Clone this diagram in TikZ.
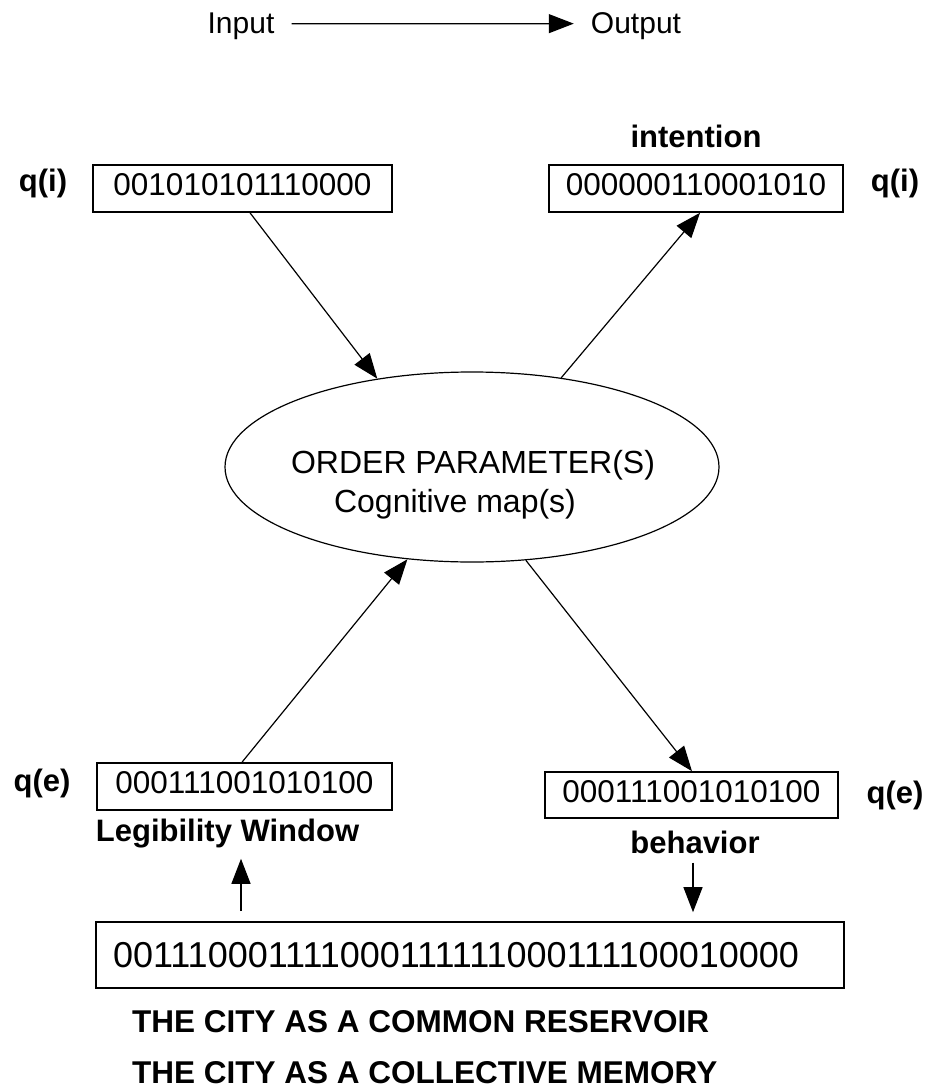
\documentclass[tikz,border=0pt]{standalone}
\usepackage{fontspec}
\setmainfont{Liberation Sans}
\usetikzlibrary{arrows.meta,shapes.geometric,calc}
\begin{document}
\begin{tikzpicture}[
  x=1pt,y=-1pt,
  bitbox/.style={draw, line width=1.6pt, inner sep=0pt, text depth=8pt,
    font=\fontsize{31.5}{36}\selectfont},
  lbl/.style={font=\bfseries\fontsize{31}{36}\selectfont, inner sep=0pt},
  bigl/.style={font=\bfseries\fontsize{31.5}{36}\selectfont, inner sep=0pt},
  plain/.style={font=\fontsize{30}{36}\selectfont, inner sep=0pt},
  ovaltext/.style={font=\fontsize{32}{38}\selectfont, inner sep=0pt},
  arr/.style={line width=1.2pt, -{Triangle[length=25pt,width=19pt]}}
]
\useasboundingbox (0,0) rectangle (928,1089);

% header
\node[plain, anchor=base] (in) at (241,34) {Input};
\node[plain, anchor=base] (out) at (636,34) {Output};
\draw[arr, shorten <=17pt, shorten >=17pt] ([yshift=3pt]in.east) -- ([yshift=3pt]out.west);

% bit boxes
\node[bitbox, minimum width=299pt, minimum height=47pt] (tl) at (242.5,188.5) {001010101110000};
\node[bitbox, minimum width=294pt, minimum height=47pt] (tr) at (696,188.5) {000000110001010};
\node[bitbox, minimum width=295pt, minimum height=47pt] (bl) at (244.5,786.5) {000111001010100};
\node[bitbox, minimum width=293pt, minimum height=46pt] (br) at (691.5,795) {000111001010100};
\node[draw, line width=1.6pt, minimum width=748pt, minimum height=66pt,
  text width=714pt, align=left, inner sep=0pt,
  font=\fontsize{36}{42}\selectfont] (big) at (470,955) {001110001111000111111000111100010000};

% ellipse
\node[draw, ellipse, line width=1.2pt, minimum width=494pt, minimum height=190pt, inner sep=0pt] (ell) at (472,467) {};
\node[ovaltext, anchor=base] (op) at (473,473) {ORDER PARAMETER(S)};
\node[ovaltext, anchor=base] (cm) at (455,512) {Cognitive map(s)};

% labels
\node[lbl] (qi1) at (43,183) {q(i)};
\node[lbl] (qi2) at (895,183) {q(i)};
\node[lbl] (qe1) at (42,783) {q(e)};
\node[lbl] (qe2) at (895,795) {q(e)};
\node[lbl, anchor=base] (int) at (696,147) {intention};
\node[lbl, anchor=base] (leg) at (227.5,841) {Legibility Window};
\node[lbl, anchor=base] (beh) at (695,853) {behavior};
\node[bigl, anchor=base west] (c1) at (132,1032) {THE CITY AS A COMMON RESERVOIR};
\node[bigl, anchor=base west] (c2) at (132,1083) {THE CITY AS A COLLECTIVE MEMORY};

% connectors
\draw[arr] ($(tl.south)+(7.5,0)$) -- (ell.137);
\draw[arr] (ell.45) -- ($(tr.south)+(4,0)$);
\draw[arr] ($(bl.north)+(-2.5,0)$) -- (ell.235);
\draw[arr] (ell.300) -- ($(br.north)+(0.5,0)$);
\draw[arr, shorten <=10pt, shorten >=11pt] ($(big.north)+(-229,0)$) -- ($(leg.south)+(13.5,0)$);
\draw[arr, shorten <=9pt, shorten >=9pt] ($(beh.south)+(-2,0)$) -- ($(big.north)+(223,0)$);
\end{tikzpicture}
\end{document}
